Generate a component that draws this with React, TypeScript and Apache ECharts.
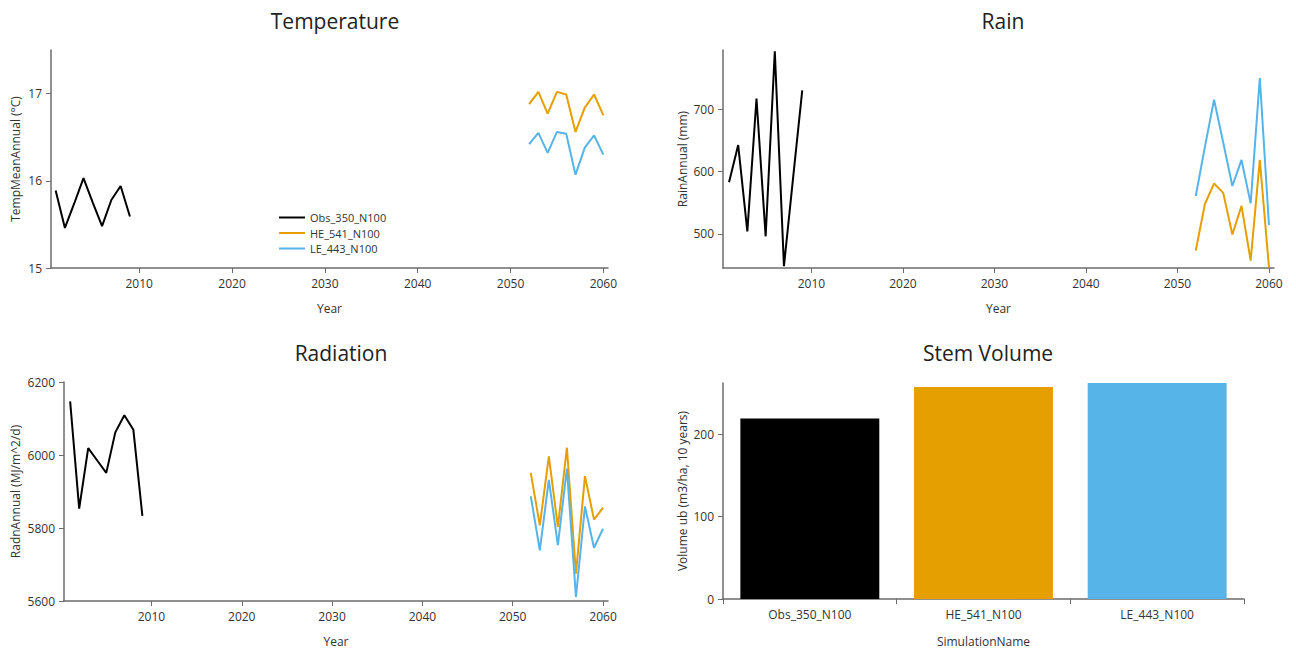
import React, { useEffect, useRef } from "react";
import * as echarts from "echarts";

const obsYears = [2001, 2002, 2003, 2004, 2005, 2006, 2007, 2008, 2009];
const futYears = [2052, 2053, 2054, 2055, 2056, 2057, 2058, 2059, 2060];

const tempObs = [15.89, 15.46, 15.74, 16.03, 15.75, 15.48, 15.78, 15.94, 15.59];
const tempHE = [16.88, 17.02, 16.77, 17.02, 16.99, 16.56, 16.84, 16.99, 16.75];
const tempLE = [16.42, 16.55, 16.32, 16.56, 16.54, 16.07, 16.38, 16.52, 16.3];

const rainObs = [583, 643, 504, 718, 496, 794, 448, 590, 731];
const rainHE = [473, 548, 581, 566, 499, 545, 457, 619, 446];
const rainLE = [561, 640, 716, 647, 577, 619, 549, 751, 514];

const radObs = [6147, 5853, 6019, 5985, 5951, 6062, 6109, 6069, 5833];
const radHE = [5951, 5807, 5996, 5803, 6020, 5675, 5942, 5823, 5856];
const radLE = [5887, 5739, 5932, 5753, 5963, 5611, 5859, 5746, 5798];

const simNames = ["Obs_350_N100", "HE_541_N100", "LE_443_N100"];
const stemVolume = [219, 257, 262];

const yearTicks = [2010, 2020, 2030, 2040, 2050, 2060];
const tempTicks = [15, 16, 17];
const rainTicks = [500, 600, 700];
const radTicks = [5600, 5800, 6000, 6200];
const volTicks = [0, 100, 200];

const colors = ["#000000", "#E69F00", "#56B4E9"];
const FONT = "'Open Sans', 'Noto Sans', sans-serif";
const AXIS_COLOR = "#6b6b6b";
const TEXT_COLOR = "#333333";

const pairs = (xs: number[], ys: number[]) => xs.map((x, i) => [x, ys[i]]);

function valueAxis(gridIndex: number, min: number, max: number, ticks: number[], extra: any = {}) {
  return {
    type: "value",
    gridIndex,
    min,
    max,
    splitLine: { show: false },
    axisLine: { show: true, lineStyle: { color: AXIS_COLOR, width: 1.5 } },
    axisTick: { show: true, length: 5, lineStyle: { color: AXIS_COLOR }, customValues: ticks },
    axisLabel: {
      color: TEXT_COLOR,
      fontFamily: FONT,
      fontSize: 12,
      margin: 9,
      customValues: ticks,
      formatter: (v: number) => String(v),
    },
    nameLocation: "middle",
    nameTextStyle: { color: TEXT_COLOR, fontFamily: FONT, fontSize: 12 },
    ...extra,
  };
}

export default function App() {
  const ref = useRef<HTMLDivElement>(null);
  useEffect(() => {
    document.body.style.margin = "0";
    if (!ref.current) return;
    const chart = echarts.init(ref.current, null, { renderer: "svg" });
    const lineSeries = (name: string, xi: number, data: number[][], color: string) => ({
      type: "line",
      name,
      xAxisIndex: xi,
      yAxisIndex: xi,
      data,
      symbol: "none",
      showSymbol: false,
      lineStyle: { color, width: 2 },
      itemStyle: { color },
    });
    const option: any = {
      animation: false,
      backgroundColor: "#ffffff",
      title: [
        { text: "Temperature", left: 330, top: 5, textAlign: "center" },
        { text: "Rain", left: 998, top: 5, textAlign: "center" },
        { text: "Radiation", left: 336, top: 337, textAlign: "center" },
        { text: "Stem Volume", left: 983, top: 337, textAlign: "center" },
      ].map((t) => ({
        ...t,
        textStyle: { fontFamily: FONT, fontSize: 21, fontWeight: "normal", color: "#222" },
      })),
      legend: {
        orient: "vertical",
        left: 274,
        top: 207,
        icon: "rect",
        itemWidth: 26,
        itemHeight: 2,
        itemGap: 4.5,
        data: simNames,
        textStyle: { fontFamily: FONT, fontSize: 11, color: TEXT_COLOR },
      },
      grid: [
        { left: 51, top: 50, width: 557, height: 218 },
        { left: 723, top: 50, width: 551, height: 218 },
        { left: 64, top: 382, width: 544, height: 219 },
        { left: 723, top: 383, width: 521, height: 216 },
      ],
      xAxis: [
        valueAxis(0, 2000.5, 2060.5, yearTicks, { name: "Year", nameGap: 34 }),
        valueAxis(1, 2000.34, 2060.55, yearTicks, { name: "Year", nameGap: 34 }),
        valueAxis(2, 2000.32, 2060.55, yearTicks, { name: "Year", nameGap: 34 }),
        {
          type: "category",
          gridIndex: 3,
          data: simNames,
          axisLine: { show: true, lineStyle: { color: AXIS_COLOR, width: 1.5 } },
          axisTick: { show: true, length: 5, lineStyle: { color: AXIS_COLOR } },
          axisLabel: { color: TEXT_COLOR, fontFamily: FONT, fontSize: 12, margin: 9 },
          name: "SimulationName",
          nameLocation: "middle",
          nameGap: 36,
          nameTextStyle: { color: TEXT_COLOR, fontFamily: FONT, fontSize: 12 },
        },
      ],
      yAxis: [
        valueAxis(0, 15, 17.5, tempTicks, { name: "TempMeanAnnual (°C)", nameGap: 30 }),
        valueAxis(1, 445, 796, rainTicks, { name: "RainAnnual (mm)", nameGap: 35 }),
        valueAxis(2, 5600, 6200, radTicks, { name: "RadnAnnual (MJ/m^2/d)", nameGap: 43 }),
        valueAxis(3, 0, 262, volTicks, { name: "Volume ub (m3/ha, 10 years)", nameGap: 35 }),
      ],
      series: [
        lineSeries(simNames[0], 0, pairs(obsYears, tempObs), colors[0]),
        lineSeries(simNames[1], 0, pairs(futYears, tempHE), colors[1]),
        lineSeries(simNames[2], 0, pairs(futYears, tempLE), colors[2]),
        lineSeries(simNames[0], 1, pairs(obsYears, rainObs), colors[0]),
        lineSeries(simNames[1], 1, pairs(futYears, rainHE), colors[1]),
        lineSeries(simNames[2], 1, pairs(futYears, rainLE), colors[2]),
        lineSeries(simNames[0], 2, pairs(obsYears, radObs), colors[0]),
        lineSeries(simNames[1], 2, pairs(futYears, radHE), colors[1]),
        lineSeries(simNames[2], 2, pairs(futYears, radLE), colors[2]),
        {
          type: "bar",
          name: "Stem Volume",
          xAxisIndex: 3,
          yAxisIndex: 3,
          barCategoryGap: "20%",
          data: stemVolume.map((v, i) => ({ value: v, itemStyle: { color: colors[i] } })),
        },
      ],
    };
    chart.setOption(option);
    return () => chart.dispose();
  }, []);
  return <div ref={ref} style={{ width: 1296, height: 652 }} />;
}
